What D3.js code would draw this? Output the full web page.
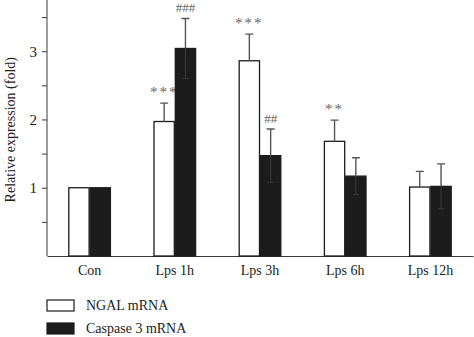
<!DOCTYPE html>
<html>
<head>
<meta charset="utf-8">
<script src="https://cdn.jsdelivr.net/npm/d3@7"></script>
<style>
  body { margin: 0; background: #fff; }
  svg { display: block; font-family: 'Liberation Serif', 'DejaVu Serif', serif; }
</style>
</head>
<body>
<div id="chart"></div>
<script>
const categories = ['Con', 'Lps 1h', 'Lps 3h', 'Lps 6h', 'Lps 12h']
const seriesNames = ['NGAL mRNA', 'Caspase 3 mRNA']
const ngalValues = [1, 1.97, 2.86, 1.68, 1.01]
const ngalErrors = [0, 0.27, 0.39, 0.31, 0.23]
const caspValues = [1, 3.04, 1.47, 1.17, 1.02]
const caspErrors = [0, 0.44, 0.39, 0.27, 0.33]
const ngalMarks = ['', '***', '***', '**', '']
const caspMarks = ['', '###', '##', '', '']
const yTicks = [1, 2, 3]

const width = 474, height = 337
const margin = { top: 0, right: 1, bottom: 81, left: 47 }
const colors = ['#ffffff', '#1c1c1c']
const axisColor = '#3a3a3a'

const svg = d3.select('#chart').append('svg')
  .attr('width', width).attr('height', height)

const x = d3.scaleBand()
  .domain(categories)
  .range([margin.left, width - margin.right])
  .paddingInner(0.5).paddingOuter(0.25)

const y = d3.scaleLinear()
  .domain([0, 3.75])
  .range([height - margin.bottom, margin.top])

const barW = x.bandwidth() / 2

const series = [
  { name: seriesNames[0], values: ngalValues, errors: ngalErrors, marks: ngalMarks, fill: colors[0] },
  { name: seriesNames[1], values: caspValues, errors: caspErrors, marks: caspMarks, fill: colors[1] }
]

// axes
const yAxis = svg.append('g')
  .attr('transform', `translate(${margin.left},0)`)
  .call(d3.axisLeft(y).tickValues(d3.range(0.5, 3.75, 0.5)).tickSize(5)
    .tickFormat(d => yTicks.includes(d) ? d : ''))
  .attr('font-family', null)
yAxis.select('.domain').attr('stroke', axisColor).attr('d', `M0,${y(0)}V0`)
yAxis.selectAll('.tick line').attr('stroke', axisColor)
yAxis.selectAll('.tick text').attr('font-size', 15).attr('fill', '#222').attr('x', -10)

const xAxis = svg.append('g')
  .attr('transform', `translate(0,${y(0)})`)
  .call(d3.axisBottom(x).tickSize(0).tickPadding(9))
  .attr('font-family', null)
xAxis.select('.domain').attr('stroke', axisColor)
xAxis.selectAll('.tick text').attr('font-size', 14).attr('fill', '#222')

svg.append('text')
  .attr('transform', `translate(15,${y(1.85)}) rotate(-90)`)
  .attr('text-anchor', 'middle')
  .attr('font-size', 14)
  .attr('fill', '#222')
  .text('Relative expression (fold)')

// bars and error bars
series.forEach((s, i) => {
  const g = svg.append('g')
  const bx = c => x(c) + i * barW
  const rows = categories.map((c, k) => ({ c, v: s.values[k], e: s.errors[k], m: s.marks[k] }))

  g.selectAll('rect').data(rows).join('rect')
    .attr('x', d => bx(d.c) + 0.5)
    .attr('y', d => y(d.v))
    .attr('width', barW - 1)
    .attr('height', d => y(0) - y(d.v))
    .attr('fill', s.fill)
    .attr('stroke', '#1c1c1c')
    .attr('stroke-width', 1.3)

  const err = rows.filter(d => d.e > 0)
  const cx = d => bx(d.c) + barW / 2
  g.selectAll('path.err').data(err).join('path')
    .attr('class', 'err')
    .attr('fill', 'none')
    .attr('stroke', '#555')
    .attr('stroke-width', 1.4)
    .attr('d', d => `M${cx(d)},${y(d.v)}V${y(d.v + d.e)}M${cx(d) - 4},${y(d.v + d.e)}H${cx(d) + 4}`)

  if (i === 1) {
    g.selectAll('path.low').data(err).join('path')
      .attr('class', 'low')
      .attr('fill', 'none')
      .attr('stroke', '#383838')
      .attr('stroke-width', 1.1)
      .attr('d', d => `M${cx(d)},${y(d.v)}V${y(d.v - d.e)}M${cx(d) - 3},${y(d.v - d.e)}H${cx(d) + 3}`)
  }

  g.selectAll('text').data(rows.filter(d => d.m)).join('text')
    .attr('x', cx)
    .attr('y', d => y(d.v + d.e) - 6)
    .attr('text-anchor', 'middle')
    .attr('font-size', d => d.m[0] === '#' ? 13 : 15)
    .attr('letter-spacing', d => d.m[0] === '#' ? 0 : 2)
    .attr('fill', '#666')
    .text(d => d.m)
})

// legend
const legend = svg.append('g')
series.forEach((s, i) => {
  const ly = 300 + i * 23
  legend.append('rect')
    .attr('x', 47).attr('y', ly)
    .attr('width', 27).attr('height', 11)
    .attr('fill', s.fill)
    .attr('stroke', '#1c1c1c').attr('stroke-width', 1.2)
  legend.append('text')
    .attr('x', 86).attr('y', ly + 10)
    .attr('font-size', 14)
    .attr('fill', '#222')
    .text(s.name)
})
</script>
</body>
</html>
